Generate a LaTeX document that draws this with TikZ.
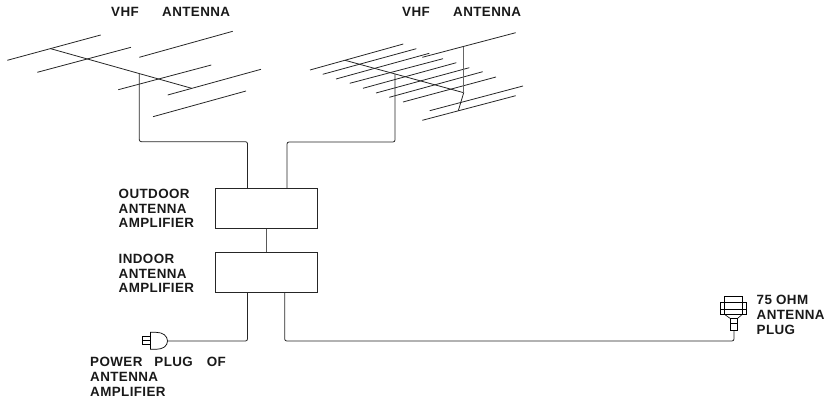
\documentclass[tikz,border=0pt]{standalone}
\usepackage{fontspec}
\setmainfont{Liberation Sans}[LetterSpace=3]
\tikzset{
  x=1pt,y=-1pt,
  wire/.style={line width=0.8pt,line join=round,rounded corners=2pt,black!85},
  elem/.style={line width=0.8pt,black!85},
  ampbox/.style={draw=black!85,line width=0.8pt,rectangle,minimum width=102.4pt,minimum height=40pt,inner sep=0pt},
  lab/.style={font=\fontsize{13.4}{14.5}\selectfont\bfseries,align=left,anchor=north west,inner sep=0pt,text=black!90},
  labw/.style={lab,font=\fontsize{13.4}{15}\selectfont\bfseries}
}
\begin{document}
\begin{tikzpicture}
\useasboundingbox (0,0) rectangle (829,401);
% labels
\node[lab] (t1) at (111,7.3) {VHF};
\node[lab] (t2) at (162,7.3) {ANTENNA};
\node[lab] (t3) at (402,7.3) {VHF};
\node[lab] (t4) at (453,7.3) {ANTENNA};
\node[lab] (t5) at (118.5,189.3) {OUTDOOR\\ANTENNA\\AMPLIFIER};
\node[lab] (t6) at (118.5,254.3) {INDOOR\\ANTENNA\\AMPLIFIER};
\node[labw] (t7) at (90,357.3) {POWER\hspace{12pt}PLUG\hspace{14pt}OF\\ANTENNA\\AMPLIFIER};
\node[labw] (t8) at (756.5,295) {75 OHM\\ANTENNA\\PLUG};
% boxes
\node[ampbox] (out) at (266.5,208.3) {};
\node[ampbox] (in) at (266.5,272.2) {};
% left antenna
\draw[elem] (50,48.5) -- (191.7,88.3);
\draw[elem] (7.3,60.3) -- (100.7,35);
\draw[elem] (37.3,72.3) -- (131,47.3);
\draw[elem] (139.3,57.3) -- (232.7,31.3);
\draw[elem] (118.3,89.7) -- (211.3,65);
\draw[elem] (167.7,95) -- (261,69.3);
\draw[elem] (153,116.7) -- (246,91);
% right antenna
\draw[elem] (345,60.3) -- (463.7,92.7) -- (458.3,110.7);
\draw[elem] (310,70) -- (403.3,44);
\draw[elem] (322.7,74.3) -- (416.3,48.7);
\draw[elem] (336,79) -- (429.3,53.3);
\draw[elem] (349.7,83.3) -- (443,58.7);
\draw[elem] (363,88.3) -- (456.3,62.7);
\draw[elem] (376,93) -- (469.3,67.7);
\draw[elem] (389.3,97.3) -- (482.7,71.7);
\draw[elem] (403,102) -- (496,77);
\draw[elem] (422.3,57.3) -- (515.7,32.7);
\draw[elem] (429.7,110.7) -- (523,86);
\draw[elem] (422.3,120.3) -- (515.7,95.7);
\draw[elem,black!60,line width=1pt] (463,47) -- (463,92.7);
% feed lines
\coordinate (fa) at (139.3,74);
\coordinate (fb) at (395,74);
\draw[wire] (fa) |- (247.5,141.7) -- (247.5,188.3);
\draw[wire] (fb) |- (287,142) -- (287,188.3);
\draw[wire,black!65,line width=1pt] (out.south) -- (in.north);
% plugs
\coordinate (pw) at (167.5,341);
\coordinate (ant) at (734,330);
\draw[wire] (247.5,292.2) |- (pw);
\draw[wire] (284.7,292.2) |- (734,341) -- (ant);
% power plug
\draw[line width=0.7pt] (150.5,332.3) -- (156,332.3) .. controls (163,332.3) and (167.5,336) .. (167.5,341) .. controls (167.5,346) and (163,349.3) .. (156,349.3) -- (150.5,349.3) -- cycle;
\draw[line width=0.6pt] (151,336) -- (142.7,336) -- (142.7,344.3) -- (151,344.3) (142.7,340) -- (151,340);
% antenna plug
\draw[line width=0.6pt] (724,314) -- (724,296) -- (742.7,296) -- (742.7,314);
\draw[line width=0.6pt] (720,302.7) rectangle (746,314);
\draw[line width=0.6pt] (720,309) -- (746,309) (724,302.7) -- (742.7,302.7);
\draw[line width=0.6pt] (724,314) -- (730,318.3) (742.7,314) -- (737.7,318.3);
\draw[line width=0.6pt] (730,318.3) rectangle (737.7,330);
\draw[line width=0.6pt] (730,323.5) -- (737.7,323.5);
\end{tikzpicture}
\end{document}
